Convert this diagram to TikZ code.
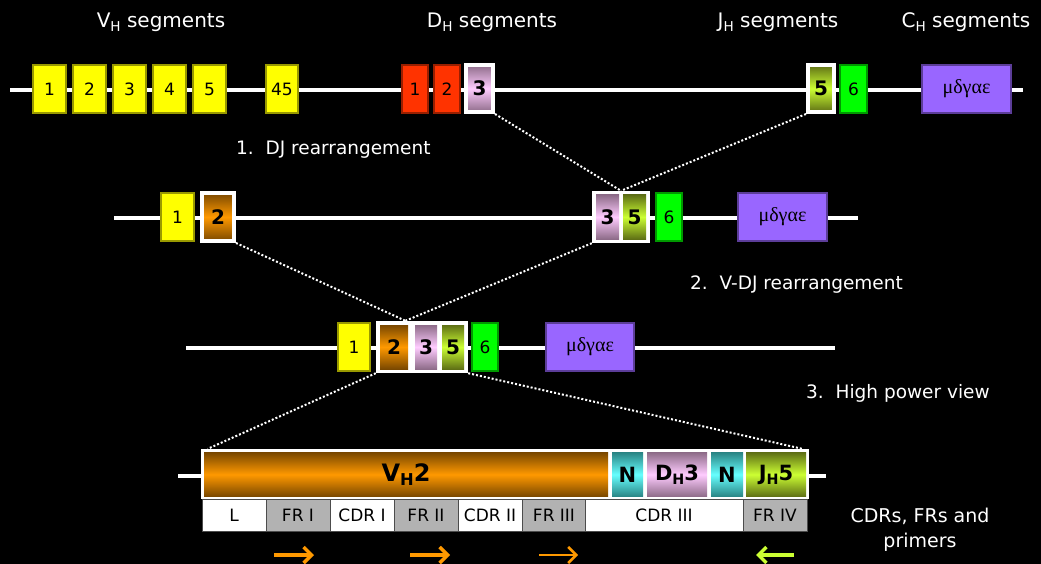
\documentclass[tikz,border=0pt]{standalone}
\usepackage{fontspec}
\setmainfont{DejaVu Sans}
\newfontfamily\greekfont{Liberation Serif}
\usetikzlibrary{calc,arrows.meta}

\definecolor{vyellow}{HTML}{FFFF00}
\definecolor{dred}{HTML}{FF3300}
\definecolor{jgreen}{HTML}{00FF00}
\definecolor{cpurple}{HTML}{9966FF}
\definecolor{cellgray}{HTML}{B2B2B2}
\definecolor{orgDark}{HTML}{7A4800}
\definecolor{orgLight}{HTML}{FF9900}
\definecolor{pinkDark}{HTML}{8E6C89}
\definecolor{pinkLight}{HTML}{FFCCFF}
\definecolor{oliveDark}{HTML}{5F7015}
\definecolor{oliveLight}{HTML}{CCFF33}
\definecolor{cyanDark}{HTML}{2A8585}
\definecolor{cyanLight}{HTML}{66FFFF}

\newcommand{\subH}{\raisebox{-0.35ex}{\scalebox{0.68}{H}}}
\newcommand{\myGreek}{{\greekfont\fontsize{20}{20}\selectfont μδγαε}}

\begin{document}
\begin{tikzpicture}[x=1pt,y=-1pt,
  box/.style={draw=#1!60!black, fill=#1, line width=1.2pt, inner sep=0pt,
    minimum height=48pt, text=black, font=\fontsize{17}{17}\selectfont},
  framed/.style={draw=white, line width=4pt, inner sep=0pt,
    font=\bfseries\fontsize{20}{20}\selectfont},
  inbox/.style={inner sep=0pt, minimum height=44pt,
    font=\bfseries\fontsize{20}{20}\selectfont},
  frame/.style={fill=white, inner sep=0pt},
  gOrange/.style={top color=orgDark, bottom color=orgDark, middle color=orgLight},
  gPink/.style={top color=pinkDark, bottom color=pinkDark, middle color=pinkLight},
  gOlive/.style={top color=oliveDark, bottom color=oliveDark, middle color=oliveLight},
  gCyan/.style={top color=cyanDark, bottom color=cyanDark, middle color=cyanLight},
  backbone/.style={white, line width=3.5pt},
  dots/.style={white, line width=2pt, dash pattern=on 2pt off 2pt},
  title/.style={white, inner sep=0pt, font=\fontsize{20}{20}\selectfont},
  step label/.style={white, inner sep=0pt, anchor=west, font=\fontsize{18.5}{18.5}\selectfont},
  cell/.style={draw=gray!60!black, line width=1pt, inner sep=0pt,
    minimum height=32pt, text=black, font=\fontsize{17}{17}\selectfont},
  primer/.style={line width=3.5pt, -{Straight Barb[length=8pt,width=16pt]}}]

  \fill[black] (0,0) rectangle (1041,564);
  \useasboundingbox (0,0) rectangle (1041,564);

  % titles
  \node[title] (vtitle) at (161,22) {V\subH\ segments};
  \node[title] (dtitle) at (492,22) {D\subH\ segments};
  \node[title] (jtitle) at (778,22) {J\subH\ segments};
  \node[title] (ctitle) at (966,22) {C\subH\ segments};

  % germline
  \coordinate (rowA1) at (10,90);
  \coordinate (rowA2) at (1023,90);
  \draw[backbone] (rowA1) -- (rowA2);
  \foreach \i in {1,...,5}
    \node[box=vyellow, minimum width=33pt] (v\i) at ({49.5+40*(\i-1)},89) {\i};
  \node[box=vyellow, minimum width=32pt] (v45) at (282,89) {45};
  \node[box=dred, minimum width=26pt] (d1) at (415,89) {1};
  \node[box=dred, minimum width=26pt] (d2) at (447,89) {2};
  \node[framed, gPink, minimum width=27pt, minimum height=47pt] (d3) at (479.5,88.5) {3};
  \node[framed, gOlive, minimum width=26pt, minimum height=47pt] (j5) at (821,88.5) {5};
  \node[box=jgreen, minimum width=27pt] (j6) at (853.5,89) {6};
  \node[box=cpurple, minimum width=89pt] (cA) at (966.5,89) {\myGreek};

  \node[step label] (stepA) at (236,150) {1.\ \ DJ rearrangement};

  % after DJ
  \coordinate (rowB1) at (114,218);
  \coordinate (rowB2) at (858,218);
  \draw[backbone] (rowB1) -- (rowB2);
  \node[box=vyellow, minimum width=33pt] (vB1) at (177.5,217) {1};
  \node[framed, gOrange, minimum width=32pt, minimum height=48pt] (vB2) at (218,217) {2};
  \node[frame, minimum width=58pt, minimum height=52pt] (f2) at (621,217) {};
  \node[inbox, gPink, minimum width=23pt] (dB3) at (607.5,217) {3};
  \node[inbox, gOlive, minimum width=23pt] (jB5) at (634.5,217) {5};
  \node[box=jgreen, minimum width=26pt] (jB6) at (669,217) {6};
  \node[box=cpurple, minimum width=89pt] (cB) at (782.5,217) {\myGreek};

  \draw[dots] (d3.south east) -- (f2.north);
  \draw[dots] (j5.south west) -- (f2.north);

  \node[step label] (stepB) at (690,285) {2.\ \ V-DJ rearrangement};

  % after V-DJ
  \coordinate (rowC1) at (186,348);
  \coordinate (rowC2) at (835,348);
  \draw[backbone] (rowC1) -- (rowC2);
  \node[box=vyellow, minimum width=32pt] (vC1) at (354,347) {1};
  \node[frame, minimum width=92pt, minimum height=52pt] (f3) at (422,347) {};
  \node[inbox, gOrange, minimum width=28pt] (vC2) at (394,347) {2};
  \node[inbox, gPink, minimum width=22pt] (dC3) at (426,347) {3};
  \node[inbox, gOlive, minimum width=22pt] (jC5) at (453,347) {5};
  \node[box=jgreen, minimum width=26pt] (jC6) at (485,347) {6};
  \node[box=cpurple, minimum width=88pt] (cC) at (590,347) {\myGreek};

  \coordinate (meet) at ($(f3.north west)!0.32!(f3.north east)$);
  \draw[dots] (vB2.south east) -- (meet);
  \draw[dots] (f2.south west) -- (meet);

  \node[step label] (stepC) at (806,393) {3.\ \ High power view};

  % high power view
  \coordinate (rowD1) at (178,476);
  \coordinate (rowD2) at (826,476);
  \draw[backbone] (rowD1) -- (rowD2);
  \node[frame, minimum width=608pt, minimum height=50pt] (f4) at (505,474) {};
  \node[inbox, gOrange, minimum width=404pt, font=\bfseries\fontsize{24}{24}\selectfont] (vh2) at (406,474.5) {V\subH2};
  \node[inbox, gCyan, minimum width=31pt, font=\bfseries\fontsize{21}{21}\selectfont] (n1) at (627.5,474.5) {N};
  \node[inbox, gPink, minimum width=60pt, font=\bfseries\fontsize{21}{21}\selectfont] (dh3) at (677,474.5) {D\subH3};
  \node[inbox, gCyan, minimum width=32pt, font=\bfseries\fontsize{21}{21}\selectfont] (n2) at (727,474.5) {N};
  \node[inbox, gOlive, minimum width=60pt, font=\bfseries\fontsize{21}{21}\selectfont] (jh5) at (776,474.5) {J\subH5};

  \draw[dots] (f3.south west) -- ($(f4.north west)+(7,0)$);
  \draw[dots] (f3.south east) -- ($(f4.north east)+(-7,0)$);

  % CDRs and FRs
  \foreach \i/\txt/\col in {1/L/white, 2/FR I/cellgray, 3/CDR I/white,
                            4/FR II/cellgray, 5/CDR II/white, 6/FR III/cellgray}
    \node[cell, fill=\col, minimum width=64pt] (cell\i) at ({234+64*(\i-1)},515) {\txt};
  \node[cell, fill=white, minimum width=158pt] (cell7) at (664,515) {CDR III};
  \node[cell, fill=cellgray, minimum width=64pt] (cell8) at (775,515) {FR IV};

  \node[white, align=center, inner sep=0pt, font=\fontsize{19}{25}\selectfont] (cdrs) at (920,530) {CDRs, FRs and\\primers};

  % primers
  \coordinate (pa1) at (274,555); \coordinate (pa2) at (314,555);
  \coordinate (pb1) at (410,555); \coordinate (pb2) at (450,555);
  \coordinate (pc1) at (539,555); \coordinate (pc2) at (578,555);
  \coordinate (pd1) at (794,555); \coordinate (pd2) at (756,555);
  \draw[primer, orgLight] (pa1) -- (pa2);
  \draw[primer, orgLight] (pb1) -- (pb2);
  \draw[primer, orgLight, line width=2.5pt] (pc1) -- (pc2);
  \draw[primer, oliveLight] (pd1) -- (pd2);
\end{tikzpicture}
\end{document}
